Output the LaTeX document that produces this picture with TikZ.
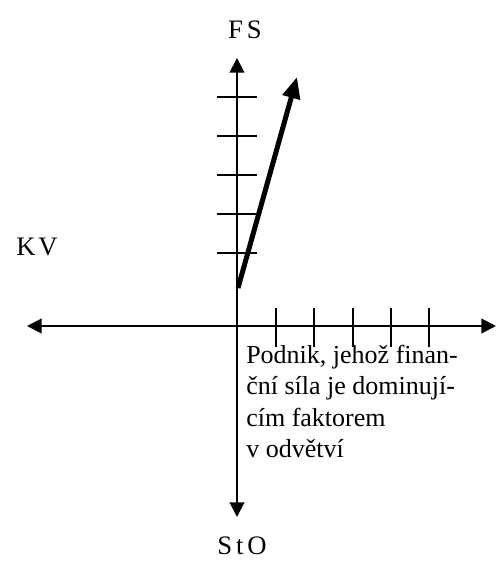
\documentclass[tikz,border=0pt]{standalone}
\usepackage{fontspec}
\setmainfont{Liberation Serif}
\usetikzlibrary{arrows.meta}

\tikzset{
  axis/.style={line width=1.5pt,-{Triangle[width=11pt,length=11pt]}},
  lbl/.style={inner sep=0pt,font=\fontsize{20}{24}\selectfont},
}

\begin{document}
\begin{tikzpicture}[x=0.75pt,y=0.75pt]
  \useasboundingbox (0,0) rectangle (497,585);
  % axes
  \coordinate (o) at (237,259);
  \coordinate (top) at (237,527);
  \coordinate (bottom) at (237,68);
  \coordinate (left) at (27,259);
  \coordinate (right) at (496,259);
  \draw[axis] (o) -- (top);
  \draw[axis] (o) -- (bottom);
  \draw[axis] (o) -- (left);
  \draw[axis] (o) -- (right);

  % ticks
  \foreach \y in {332,371,410,449,488}
    \draw[line width=1.5pt] (217,\y) -- (257,\y);
  \foreach \x in {276,314,353,391,429}
    \draw[line width=1.5pt] (\x,238) -- (\x,277);

  % vector
  \coordinate (vs) at (238,297);
  \coordinate (ve) at (297,508);
  \draw[line width=3.75pt,-{Triangle[width=13pt,length=16pt]}] (vs) -- (ve);

  % labels
  \node[lbl] (fs) at (245,555) {F\kern3pt S};
  \node[lbl] (kv) at (37,338) {K\kern2pt V};
  \node[lbl] (sto) at (242,39) {S\kern3pt t\kern3pt O};
  \node[lbl,anchor=north west,align=left,font=\fontsize{19.5}{23.5}\selectfont] (txt) at (246,240)
    {Podnik, jehož finan-\\ční síla je dominují-\\cím faktorem\\v odvětví};
\end{tikzpicture}
\end{document}
